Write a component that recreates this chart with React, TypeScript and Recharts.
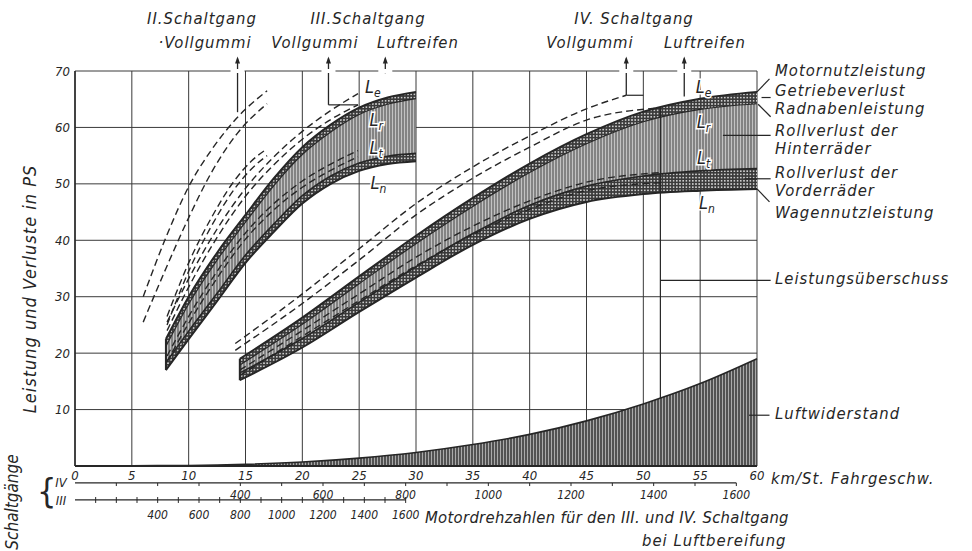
import React from 'react';
import {
  ComposedChart,
  XAxis,
  YAxis,
  CartesianGrid,
  Line,
  Area,
  Scatter,
  ReferenceLine,
  ReferenceDot,
} from 'recharts';

const FONT = '"DejaVu Sans Condensed", "DejaVu Sans", sans-serif';
const INK = '#262626';

const speedTicks = [0, 5, 10, 15, 20, 25, 30, 35, 40, 45, 50, 55, 60];
const powerTicks = [10, 20, 30, 40, 50, 60, 70];
const rpmTicks = [100, 200, 300, 400, 500, 600, 700, 800, 900, 1000, 1100, 1200, 1300, 1400, 1500, 1600];
const rpmLabelled = [400, 600, 800, 1000, 1200, 1400, 1600];

// engine rpm per km/h with pneumatic tyres
const rpmPerKmhIV = 1650 / 60;
const rpmPerKmhIII = 1650 / 30;

// III. Schaltgang, Luftreifen (km/h -> PS)
const g3Speed = [8, 10, 12.5, 15, 17.5, 20, 22.5, 25, 27.5, 30];
const g3Le = [22.5, 30, 37.8, 44.5, 51, 56.5, 60.5, 63.5, 65.3, 66.3];
const g3Lr = [21.2, 28.7, 36.5, 43.2, 49.7, 55.2, 59.2, 62.3, 64.1, 65.1];
const g3Lt = [18.3, 23.9, 30.6, 37.4, 42.9, 47.9, 51.4, 53.7, 54.9, 55.4];
const g3Ln = [17, 22.5, 29.2, 36, 41.5, 46.5, 50, 52.3, 53.5, 54];

// IV. Schaltgang, Luftreifen
const g4Speed = [14.5, 20, 25, 30, 35, 40, 45, 50, 55, 60];
const g4Le = [19, 26.3, 33.6, 40.8, 47.5, 53.6, 58.8, 62.8, 65.1, 66.3];
const g4Lr = [17.9, 25.1, 32.3, 39.4, 46, 52, 57.1, 61, 63.2, 64.2];
const g4Lt = [16.5, 22.6, 29, 35.3, 41.2, 46.2, 49.6, 51.4, 52.3, 52.7];
const g4Ln = [15.2, 21, 27.3, 33.4, 39.2, 43.8, 46.8, 48.2, 48.8, 49.1];

// Vollgummi (dashed)
const g2VgSpeed = [6, 8, 10, 12, 14.3, 16.9];
const g2VgLe = [30, 40.5, 49.5, 56, 61.8, 66.5];
const g2VgLr = [25.5, 35, 44, 52, 59, 64.2];
const g2VgLowSpeed = [8.1, 10, 12, 14, 15.5, 16.9];
const g2VgLt = [26.5, 36, 44, 50.5, 54, 56.2];
const g2VgLn = [25, 34.5, 42.5, 49, 52.6, 55];

const g3VgSpeed = [8.1, 10, 12.5, 15, 17.5, 20, 22.5, 24.9];
const g3VgLe = [25.5, 33.2, 42, 49.2, 54.8, 59.3, 63, 66];
const g3VgLr = [24, 31.7, 40.5, 47.8, 53.4, 57.9, 61.4, 64];
const g3VgLt = [19.5, 26.5, 34.5, 41.3, 46.5, 50.5, 53.5, 55.9];
const g3VgLn = [18.5, 25.3, 33.3, 40.2, 45.4, 49.4, 52.4, 54.8];

const g4VgSpeed = [14.1, 20, 25, 30, 35, 40, 45, 48.5];
const g4VgLe = [21.7, 30.5, 38.5, 46.5, 53, 58.5, 63.3, 65.7];
const g4VgLrSpeed = [14.1, 20, 25, 30, 35, 40, 45, 51];
const g4VgLr = [20.5, 28.8, 36.5, 44.5, 51, 56.5, 61.3, 63.4];
const g4VgLowSpeed = [14.5, 20, 25, 30, 35, 40, 45, 51.5];
const g4VgLt = [17, 24, 30.5, 37, 42.5, 47, 50.3, 52];
const g4VgLn = [16, 23, 29.3, 35.5, 41, 45.5, 48.8, 50.2];

// Luftwiderstand
const airSpeed = [0, 5, 10, 15, 20, 25, 30, 35, 40, 45, 50, 55, 60];
const airLoss = [0, 0.05, 0.1, 0.3, 0.7, 1.4, 2.4, 3.8, 5.6, 8, 11, 14.6, 19];

// curve tags L_e, L_r, L_t, L_n
const curveTags = [
  { x: 26.2, y: 67.2, sub: 'e' },
  { x: 26.5, y: 61.3, sub: 'r' },
  { x: 26.5, y: 56.4, sub: 't' },
  { x: 26.7, y: 50.2, sub: 'n' },
  { x: 55.3, y: 67.2, sub: 'e' },
  { x: 55.3, y: 61, sub: 'r' },
  { x: 55.3, y: 54.6, sub: 't' },
  { x: 55.6, y: 46.6, sub: 'n' },
];

// top-speed arrows (speed, lower end in PS)
const topArrows = [
  { x: 14.3, from: 62.7 },
  { x: 22.3, from: 64 },
  { x: 27.3, from: 69.6 },
  { x: 48.5, from: 65.7 },
  { x: 53.6, from: 65.5 },
];

// leaders from the right-hand captions to the curves
const leaders = [
  [{ x: 60, y: 66.3 }, { x: 61.1, y: 68.6 }],
  [{ x: 60.4, y: 65.3 }, { x: 61.2, y: 65.3 }],
  [{ x: 60.1, y: 64.1 }, { x: 61.2, y: 61.9 }],
  [{ x: 57, y: 58.6 }, { x: 61.2, y: 58.6 }],
  [{ x: 58.9, y: 50.9 }, { x: 61.2, y: 50.9 }],
  [{ x: 60, y: 49.1 }, { x: 61.1, y: 46.8 }],
  [{ x: 51.5, y: 32.9 }, { x: 61.2, y: 32.9 }],
  [{ x: 59.3, y: 9 }, { x: 61.1, y: 9 }],
  [{ x: 51.5, y: 63.6 }, { x: 51.5, y: 12 }],
  [{ x: 22.3, y: 64 }, { x: 24.9, y: 64 }],
  [{ x: 48.5, y: 65.7 }, { x: 50, y: 65.7 }],
];

// rows of the two rpm scales, in PS below the speed axis
const rpmRowIV = -3;
const rpmRowIII = -6;

const rightCaptions = [
  { text: 'Motornutzleistung', y: 76 },
  { text: 'Getriebeverlust', y: 96 },
  { text: 'Radnabenleistung', y: 114 },
  { text: 'Rollverlust der', y: 136 },
  { text: 'Hinterräder', y: 154 },
  { text: 'Rollverlust der', y: 178 },
  { text: 'Vorderräder', y: 196 },
  { text: 'Wagennutzleistung', y: 218 },
  { text: 'Leistungsüberschuss', y: 284 },
  { text: 'Luftwiderstand', y: 419 },
];

const topCaptions = [
  { text: 'II.Schaltgang', x: 202, y: 24 },
  { text: '·Vollgummi', x: 205, y: 48 },
  { text: 'III.Schaltgang', x: 368, y: 24 },
  { text: 'Vollgummi', x: 315, y: 48 },
  { text: 'Luftreifen', x: 418, y: 48 },
  { text: 'IV. Schaltgang', x: 634, y: 24 },
  { text: 'Vollgummi', x: 590, y: 48 },
  { text: 'Luftreifen', x: 705, y: 48 },
];

const pts = (xs: number[], ys: number[]) => xs.map((x, i) => ({ x, y: ys[i] }));
const span = (xs: number[], lo: number[], hi: number[]) =>
  xs.map((x, i) => ({ x, band: [lo[i], hi[i]] }));

const txt = { fontFamily: FONT, fontStyle: 'italic' as const, fill: INK };
const cap = { ...txt, fontSize: 16.5, letterSpacing: 1 };

const SpeedTick = (props: any) => {
  const { x, y, payload } = props;
  return (
    <text x={x} y={y + 14} textAnchor="middle" fontSize={13} {...txt}>
      {payload.value}
    </text>
  );
};

const PowerTick = (props: any) => {
  const { x, y, payload } = props;
  return (
    <text x={x} y={y + 4.5} textAnchor="end" fontSize={13} {...txt}>
      {payload.value}
    </text>
  );
};

const rpmLabel = (value: number, dy: number) => (props: any) => (
  <text x={props.cx} y={props.cy + dy} textAnchor="middle" fontSize={12} {...txt}>
    {value}
  </text>
);

// one rpm scale: base line, tick marks and numbers, placed through the speed axis
const rpmScale = (id: string, perKmh: number, row: number, labelDy: number, both: boolean) => {
  const out: React.ReactNode[] = [
    <ReferenceLine
      key={`${id}-base`}
      segment={[{ x: 0, y: row }, { x: 1600 / perKmh, y: row }]}
      stroke={INK}
      strokeWidth={1.3}
      ifOverflow="visible"
    />,
  ];
  rpmTicks.forEach((rpm) => {
    const x = rpm / perKmh;
    out.push(
      <ReferenceLine
        key={`${id}-t${rpm}`}
        segment={[{ x, y: both ? row + 0.5 : row }, { x, y: row - 0.55 }]}
        stroke={INK}
        strokeWidth={1}
        ifOverflow="visible"
      />,
    );
    if (rpmLabelled.includes(rpm)) {
      out.push(
        <ReferenceDot key={`${id}-l${rpm}`} x={x} y={row} r={0} shape={rpmLabel(rpm, labelDy)} ifOverflow="visible" />,
      );
    }
  });
  return out;
};

const TagShape = (props: any) => {
  const { cx, cy, payload } = props;
  return (
    <text
      x={cx}
      y={cy + 6}
      textAnchor="middle"
      fontSize={18}
      {...txt}
      stroke="#fff"
      strokeWidth={3}
      paintOrder="stroke"
    >
      L
      <tspan fontSize={12} dy={4}>
        {payload.sub}
      </tspan>
    </text>
  );
};

const ArrowHead = (props: any) => {
  const { cx, cy } = props;
  return <path d={`M${cx - 2.5},${cy + 6} L${cx},${cy - 1} L${cx + 2.5},${cy + 6} Z`} fill={INK} />;
};

// small white break in the top grid line where an arrow passes
const GridGap = (props: any) => {
  const { cx, cy } = props;
  return <rect x={cx - 7} y={cy - 2} width={14} height={4} fill="#fff" />;
};

const solid = (key: string, xs: number[], ys: number[], w: number) => (
  <Line
    key={key}
    data={pts(xs, ys)}
    dataKey="y"
    type="monotone"
    stroke={INK}
    strokeWidth={w}
    dot={false}
    activeDot={false}
    isAnimationActive={false}
  />
);

const dashed = (key: string, xs: number[], ys: number[]) => (
  <Line
    key={key}
    data={pts(xs, ys)}
    dataKey="y"
    type="monotone"
    stroke={INK}
    strokeWidth={1.4}
    strokeDasharray="7 4"
    dot={false}
    activeDot={false}
    isAnimationActive={false}
  />
);

const band = (key: string, xs: number[], lo: number[], hi: number[], fill: string) => (
  <Area
    key={key}
    data={span(xs, lo, hi)}
    dataKey="band"
    type="monotone"
    stroke="none"
    fill={fill}
    fillOpacity={1}
    dot={false}
    activeDot={false}
    isAnimationActive={false}
  />
);

export default function App() {
  return (
    <div style={{ position: 'absolute', left: 0, top: 0, width: 972, height: 551, background: '#fff' }}>
      <ComposedChart width={972} height={551} margin={{ top: 71, right: 215, bottom: 69, left: 0 }}>
        <defs>
          <pattern id="hatchMid" width="3" height="4" patternUnits="userSpaceOnUse">
            <rect width="3" height="4" fill="#c2c2c2" />
            <line x1="1" y1="0" x2="1" y2="4" stroke="#444" strokeWidth="1" />
          </pattern>
          <pattern id="strip" width="3.2" height="3.2" patternUnits="userSpaceOnUse">
            <rect width="3.2" height="3.2" fill="#3a3a3a" />
            <circle cx="1.6" cy="1.6" r="0.85" fill="#f0f0f0" />
          </pattern>
          <pattern id="hatchAir" width="3" height="4" patternUnits="userSpaceOnUse">
            <rect width="3" height="4" fill="#aaaaaa" />
            <line x1="1" y1="0" x2="1" y2="4" stroke="#222" strokeWidth="1.3" />
          </pattern>
        </defs>

        <CartesianGrid stroke="#3a3a3a" strokeWidth={1} />

        <XAxis
          type="number"
          dataKey="x"
          domain={[0, 60]}
          ticks={speedTicks}
          interval={0}
          height={16}
          tickSize={0}
          tickMargin={0}
          tickLine={false}
          axisLine={{ stroke: INK, strokeWidth: 2 }}
          tick={<SpeedTick />}
        />
        <YAxis
          type="number"
          domain={[0, 70]}
          ticks={powerTicks}
          interval={0}
          width={75}
          tickSize={0}
          tickMargin={5}
          tickLine={false}
          axisLine={{ stroke: INK, strokeWidth: 1.5 }}
          tick={<PowerTick />}
        />

        {band('air', airSpeed, airSpeed.map(() => 0), airLoss, 'url(#hatchAir)')}
        {solid('airLine', airSpeed, airLoss, 1.6)}

        {band('g3a', g3Speed, g3Lr, g3Le, 'url(#strip)')}
        {band('g3b', g3Speed, g3Lt, g3Lr, 'url(#hatchMid)')}
        {band('g3c', g3Speed, g3Ln, g3Lt, 'url(#strip)')}
        {band('g4a', g4Speed, g4Lr, g4Le, 'url(#strip)')}
        {band('g4b', g4Speed, g4Lt, g4Lr, 'url(#hatchMid)')}
        {band('g4c', g4Speed, g4Ln, g4Lt, 'url(#strip)')}

        {solid('g3Le', g3Speed, g3Le, 2)}
        {solid('g3Lr', g3Speed, g3Lr, 1.2)}
        {solid('g3Lt', g3Speed, g3Lt, 1.6)}
        {solid('g3Ln', g3Speed, g3Ln, 2)}
        {solid('g4Le', g4Speed, g4Le, 2)}
        {solid('g4Lr', g4Speed, g4Lr, 1.2)}
        {solid('g4Lt', g4Speed, g4Lt, 1.6)}
        {solid('g4Ln', g4Speed, g4Ln, 2)}

        {dashed('g2VgLe', g2VgSpeed, g2VgLe)}
        {dashed('g2VgLr', g2VgSpeed, g2VgLr)}
        {dashed('g2VgLt', g2VgLowSpeed, g2VgLt)}
        {dashed('g2VgLn', g2VgLowSpeed, g2VgLn)}
        {dashed('g3VgLe', g3VgSpeed, g3VgLe)}
        {dashed('g3VgLr', g3VgSpeed, g3VgLr)}
        {dashed('g3VgLt', g3VgSpeed, g3VgLt)}
        {dashed('g3VgLn', g3VgSpeed, g3VgLn)}
        {dashed('g4VgLe', g4VgSpeed, g4VgLe)}
        {dashed('g4VgLr', g4VgLrSpeed, g4VgLr)}
        {dashed('g4VgLt', g4VgLowSpeed, g4VgLt)}
        {dashed('g4VgLn', g4VgLowSpeed, g4VgLn)}

        <ReferenceLine
          segment={[{ x: g3Speed[0], y: g3Ln[0] }, { x: g3Speed[0], y: g3Le[0] }]}
          stroke={INK}
          strokeWidth={2}
        />
        <ReferenceLine
          segment={[{ x: g4Speed[0], y: g4Ln[0] }, { x: g4Speed[0], y: g4Le[0] }]}
          stroke={INK}
          strokeWidth={2}
        />

        {topArrows.map((a, i) => (
          <ReferenceDot key={`gap${i}`} x={a.x} y={70} r={0} shape={<GridGap />} ifOverflow="visible" />
        ))}
        {topArrows.map((a, i) => (
          <ReferenceLine
            key={`arr${i}`}
            segment={[{ x: a.x, y: a.from }, { x: a.x, y: 72.2 }]}
            stroke={INK}
            strokeWidth={1.3}
            ifOverflow="visible"
          />
        ))}
        {topArrows.map((a, i) => (
          <ReferenceDot key={`head${i}`} x={a.x} y={72.4} r={0} shape={<ArrowHead />} ifOverflow="visible" />
        ))}
        {leaders.map((seg, i) => (
          <ReferenceLine key={`lead${i}`} segment={seg} stroke={INK} strokeWidth={1.2} ifOverflow="visible" />
        ))}

        {rpmScale('iv', rpmPerKmhIV, rpmRowIV, 16.5, false)}
        {rpmScale('iii', rpmPerKmhIII, rpmRowIII, 19.5, true)}

        <Scatter data={curveTags} dataKey="y" shape={<TagShape />} isAnimationActive={false} />
      </ComposedChart>

      <svg
        width={972}
        height={551}
        style={{ position: 'absolute', left: 0, top: 0, pointerEvents: 'none' }}
      >
        {topCaptions.map((c, i) => (
          <text key={i} x={c.x} y={c.y} textAnchor="middle" {...cap}>
            {c.text}
          </text>
        ))}
        {rightCaptions.map((c, i) => (
          <text key={i} x={775} y={c.y} {...cap}>
            {c.text}
          </text>
        ))}
        <text x={771} y={484} {...cap}>
          km/St. Fahrgeschw.
        </text>
        <text x={425} y={523} {...cap} letterSpacing={0.3}>
          Motordrehzahlen für den III. und IV. Schaltgang
        </text>
        <text x={642} y={546} {...cap}>
          bei Luftbereifung
        </text>
        <text x={36} y={289} transform="rotate(-90 36 289)" textAnchor="middle" {...cap} fontSize={18}>
          Leistung und Verluste in PS
        </text>
        <text x={18} y={502} transform="rotate(-90 18 502)" textAnchor="middle" {...cap} fontSize={17} letterSpacing={0}>
          Schaltgänge
        </text>
        <text x={37} y={503} fontSize={34} fontFamily={FONT} fill={INK}>
          {'{'}
        </text>
        <text x={61} y={487} textAnchor="middle" fontSize={13} {...txt}>
          IV
        </text>
        <text x={61} y={505} textAnchor="middle" fontSize={13} {...txt}>
          III
        </text>
      </svg>
    </div>
  );
}
